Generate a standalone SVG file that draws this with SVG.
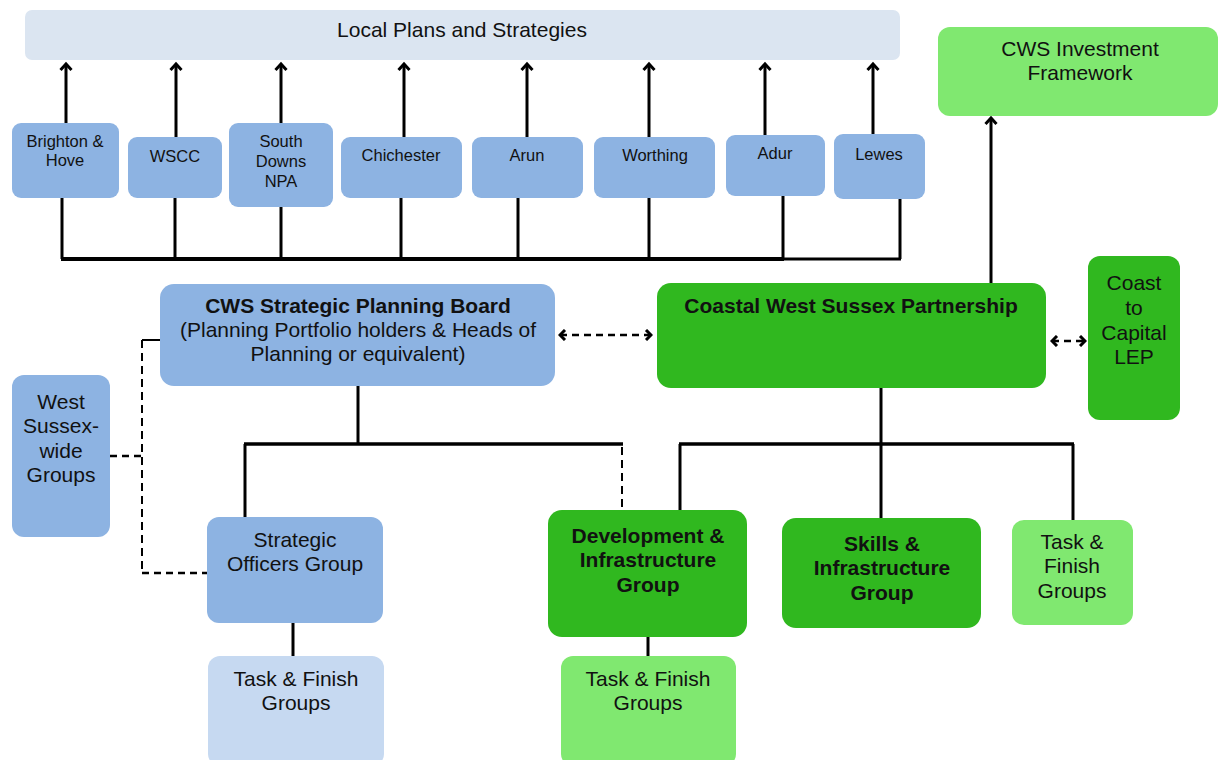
<svg xmlns="http://www.w3.org/2000/svg" width="1218" height="760" viewBox="0 0 1218 760">
<defs>
<style>
text{font-family:"Liberation Sans",Arial,sans-serif;fill:#111;text-anchor:middle}
.t16{font-size:16.5px}
.t19{font-size:21px}
.b{font-weight:bold}
.blue{fill:#8db3e2}
.lblue{fill:#c6d9f1}
.bar{fill:#dbe5f1}
.green{fill:#30b81f}
.lgreen{fill:#80e870}
.ln{stroke:#000;stroke-width:3;fill:none}
.lnt{stroke:#000;stroke-width:2;fill:none}
.dash{stroke:#000;stroke-width:2.5;fill:none;stroke-dasharray:7,5}
.dsh2{stroke:#000;stroke-width:2;fill:none;stroke-dasharray:8,5}
</style>
<marker id="ah" viewBox="0 0 14 14" refX="11" refY="7" markerWidth="14" markerHeight="14" markerUnits="userSpaceOnUse" orient="auto-start-reverse">
<polyline points="5,1.5 11,7 5,12.5" fill="none" stroke="#000" stroke-width="3"/>
</marker>
<marker id="dh" viewBox="0 0 12 12" refX="10" refY="6" markerWidth="12" markerHeight="12" markerUnits="userSpaceOnUse" orient="auto-start-reverse">
<polyline points="5,1 10,6 5,11" fill="none" stroke="#000" stroke-width="3"/>
</marker>
</defs>

<g id="connectors">
<line class="ln" x1="66" y1="123" x2="66" y2="64" marker-end="url(#ah)"/>
<line class="ln" x1="176" y1="137" x2="176" y2="64" marker-end="url(#ah)"/>
<line class="ln" x1="281" y1="123" x2="281" y2="64" marker-end="url(#ah)"/>
<line class="ln" x1="404" y1="137" x2="404" y2="64" marker-end="url(#ah)"/>
<line class="ln" x1="527" y1="137" x2="527" y2="64" marker-end="url(#ah)"/>
<line class="ln" x1="649" y1="137" x2="649" y2="64" marker-end="url(#ah)"/>
<line class="ln" x1="765" y1="135" x2="765" y2="64" marker-end="url(#ah)"/>
<line class="ln" x1="873" y1="134" x2="873" y2="64" marker-end="url(#ah)"/>
<line class="ln" x1="62" y1="197" x2="62" y2="259"/>
<line class="ln" x1="175" y1="198" x2="175" y2="259"/>
<line class="ln" x1="281" y1="207" x2="281" y2="259"/>
<line class="ln" x1="401" y1="198" x2="401" y2="259"/>
<line class="ln" x1="518" y1="198" x2="518" y2="259"/>
<line class="ln" x1="649" y1="198" x2="649" y2="259"/>
<line class="ln" x1="783" y1="196" x2="783" y2="259"/>
<line class="ln" x1="900" y1="199" x2="900" y2="259"/>
<line stroke="#000" stroke-width="4" x1="61" y1="259" x2="784" y2="259"/>
<line class="ln" x1="783" y1="259" x2="901" y2="259"/>
<line class="ln" x1="991" y1="283" x2="991" y2="118" marker-end="url(#ah)"/>
<line class="dash" x1="560" y1="335" x2="651" y2="335" marker-start="url(#dh)" marker-end="url(#dh)"/>
<line class="dash" x1="1052" y1="341" x2="1085" y2="341" marker-start="url(#dh)" marker-end="url(#dh)"/>
<line class="lnt" x1="142" y1="340" x2="160" y2="340"/>
<line class="dsh2" x1="142" y1="340" x2="142" y2="573"/>
<line class="dash" x1="110" y1="456" x2="142" y2="456"/>
<line class="dash" x1="142" y1="573" x2="207" y2="573"/>
<line class="ln" x1="358" y1="386" x2="358" y2="444"/>
<line stroke="#000" stroke-width="3.5" x1="244" y1="444" x2="623" y2="444"/>
<line class="ln" x1="245" y1="444" x2="245" y2="518"/>
<line class="dsh2" x1="622" y1="447" x2="622" y2="510"/>
<line class="ln" x1="293" y1="623" x2="293" y2="657"/>
<line class="ln" x1="881" y1="388" x2="881" y2="444"/>
<line stroke="#000" stroke-width="3.5" x1="679" y1="444" x2="1074" y2="444"/>
<line class="ln" x1="680" y1="444" x2="680" y2="512"/>
<line class="ln" x1="881" y1="444" x2="881" y2="519"/>
<line class="ln" x1="1073" y1="444" x2="1073" y2="521"/>
<line class="ln" x1="648" y1="636" x2="648" y2="657"/>
</g>

<g id="local-plans"><rect class="bar" x="25" y="10" width="875" height="50" rx="7"/><text class="t19" x="462" y="37">Local Plans and Strategies</text></g>

<g id="brighton"><rect class="blue" x="12" y="123" width="107" height="75" rx="9"/><text class="t16" x="65" y="147">Brighton &amp;</text><text class="t16" x="65" y="166">Hove</text></g>
<g id="wscc"><rect class="blue" x="128" y="137" width="94" height="61" rx="9"/><text class="t16" x="175" y="162">WSCC</text></g>
<g id="sdnpa"><rect class="blue" x="229" y="123" width="104" height="84" rx="9"/><text class="t16" x="281" y="147">South</text><text class="t16" x="281" y="167">Downs</text><text class="t16" x="281" y="187">NPA</text></g>
<g id="chichester"><rect class="blue" x="341" y="137" width="121" height="61" rx="9"/><text class="t16" x="401" y="161">Chichester</text></g>
<g id="arun"><rect class="blue" x="472" y="137" width="111" height="61" rx="9"/><text class="t16" x="527" y="161">Arun</text></g>
<g id="worthing"><rect class="blue" x="594" y="137" width="121" height="61" rx="9"/><text class="t16" x="655" y="161">Worthing</text></g>
<g id="adur"><rect class="blue" x="726" y="135" width="99" height="61" rx="9"/><text class="t16" x="775" y="159">Adur</text></g>
<g id="lewes"><rect class="blue" x="834" y="134" width="91" height="65" rx="9"/><text class="t16" x="879" y="160">Lewes</text></g>

<g id="investment"><rect class="lgreen" x="938" y="27" width="280" height="89" rx="12"/><text class="t19" x="1080" y="56">CWS Investment</text><text class="t19" x="1080" y="80">Framework</text></g>

<g id="planning-board"><rect class="blue" x="160" y="284" width="395" height="102" rx="14"/><text class="t19 b" x="358" y="313">CWS Strategic Planning Board</text><text class="t19" x="358" y="337">(Planning Portfolio holders &amp; Heads of</text><text class="t19" x="358" y="361">Planning or equivalent)</text></g>

<g id="cwsp"><rect class="green" x="657" y="283" width="389" height="105" rx="14"/><text class="t19 b" x="851" y="313">Coastal West Sussex Partnership</text></g>

<g id="lep"><rect class="green" x="1088" y="256" width="92" height="164" rx="12"/><text class="t19" x="1134" y="290">Coast</text><text class="t19" x="1134" y="315">to</text><text class="t19" x="1134" y="340">Capital</text><text class="t19" x="1134" y="364">LEP</text></g>

<g id="west-sussex"><rect class="blue" x="12" y="375" width="98" height="162" rx="12"/><text class="t19" x="61" y="409">West</text><text class="t19" x="61" y="433">Sussex-</text><text class="t19" x="61" y="458">wide</text><text class="t19" x="61" y="482">Groups</text></g>

<g id="sog"><rect class="blue" x="207" y="517" width="176" height="106" rx="12"/><text class="t19" x="295" y="547">Strategic</text><text class="t19" x="295" y="571">Officers Group</text></g>

<g id="tfg-blue"><rect class="lblue" x="208" y="656" width="176" height="110" rx="12"/><text class="t19" x="296" y="686">Task &amp; Finish</text><text class="t19" x="296" y="710">Groups</text></g>

<g id="dig"><rect class="green" x="548" y="510" width="199" height="127" rx="14"/><text class="t19 b" x="648" y="543">Development &amp;</text><text class="t19 b" x="648" y="567">Infrastructure</text><text class="t19 b" x="648" y="592">Group</text></g>

<g id="tfg-green"><rect class="lgreen" x="561" y="656" width="175" height="110" rx="12"/><text class="t19" x="648" y="686">Task &amp; Finish</text><text class="t19" x="648" y="710">Groups</text></g>

<g id="sig"><rect class="green" x="782" y="518" width="199" height="110" rx="14"/><text class="t19 b" x="882" y="551">Skills &amp;</text><text class="t19 b" x="882" y="575">Infrastructure</text><text class="t19 b" x="882" y="600">Group</text></g>

<g id="tfg-right"><rect class="lgreen" x="1012" y="520" width="121" height="105" rx="12"/><text class="t19" x="1072" y="549">Task &amp;</text><text class="t19" x="1072" y="573">Finish</text><text class="t19" x="1072" y="598">Groups</text></g>
</svg>
